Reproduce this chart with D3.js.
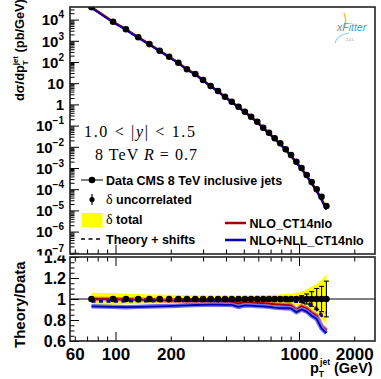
<!DOCTYPE html>
<html>
<head>
<meta charset="utf-8">
<script src="https://cdn.jsdelivr.net/npm/d3@7"></script>
<style>
  body { margin: 0; background: #fff; }
  svg { display: block; font-family: "Liberation Sans", Arial, sans-serif; font-weight: bold; }
</style>
</head>
<body>
<svg id="chart" width="381" height="379"></svg>
<script>
// jet pT (GeV)
const pt = [74, 97, 114, 133, 153, 174, 196, 220, 245, 272, 300, 330, 362, 395, 430, 468,
  507, 548, 592, 638, 686, 737, 790, 846, 905, 967, 1032, 1101, 1172, 1248, 1327, 1410];
// d sigma / d pT (pb/GeV)
const xsec = [3.8e4, 7.9e3, 3.5e3, 1.46e3, 700, 341, 178, 92.7, 45.3, 27.2, 14.2, 7.38, 4.29, 2.31, 1.34, 0.78,
  0.453, 0.263, 0.153, 0.0796, 0.0462, 0.0251, 0.0146, 7.6e-3, 4.1e-3, 1.98e-3, 1.0e-3, 4.7e-4, 2.2e-4, 1.0e-4, 4.4e-5, 1.6e-5];
// relative uncorrelated and total uncertainties
const statErr = [0.004, 0.004, 0.004, 0.004, 0.004, 0.004, 0.004, 0.004, 0.004, 0.004, 0.004, 0.004, 0.004, 0.004, 0.004, 0.005,
  0.005, 0.005, 0.006, 0.006, 0.007, 0.008, 0.009, 0.01, 0.012, 0.018, 0.032, 0.048, 0.07, 0.1, 0.12, 0.17];
const totErr = [0.06, 0.055, 0.05, 0.047, 0.044, 0.042, 0.04, 0.038, 0.036, 0.035, 0.034, 0.033, 0.033, 0.033, 0.033, 0.034,
  0.034, 0.035, 0.036, 0.037, 0.039, 0.041, 0.044, 0.048, 0.053, 0.06, 0.07, 0.09, 0.12, 0.145, 0.18, 0.24];
// theory / data
const nloRatio = [1.0, 1.0, 0.995, 0.995, 0.99, 0.99, 0.985, 0.985, 0.98, 0.98, 0.978, 0.978, 0.975, 0.975, 0.972, 0.955,
  0.97, 0.965, 0.962, 0.96, 0.955, 0.95, 0.947, 0.945, 0.94, 0.897, 0.93, 0.91, 0.87, 0.84, 0.74, 0.70];
const nllRatio = [0.93, 0.925, 0.922, 0.925, 0.928, 0.93, 0.933, 0.936, 0.94, 0.943, 0.945, 0.946, 0.946, 0.945, 0.944, 0.925,
  0.94, 0.937, 0.933, 0.93, 0.925, 0.918, 0.914, 0.912, 0.91, 0.875, 0.90, 0.88, 0.84, 0.81, 0.72, 0.675];
const nloShift = [0.995, 0.995, 0.995, 0.995, 0.995, 0.995, 0.995, 0.995, 0.995, 0.995, 0.995, 0.995, 0.995, 0.995, 0.995, 0.995,
  0.995, 0.995, 0.995, 0.995, 0.995, 0.995, 0.995, 0.993, 0.99, 0.985, 0.98, 0.97, 0.95, 0.91, 0.85, 0.87];
const nllShift = [0.977, 0.977, 0.978, 0.979, 0.98, 0.981, 0.982, 0.983, 0.984, 0.985, 0.985, 0.986, 0.986, 0.986, 0.986, 0.986,
  0.986, 0.986, 0.986, 0.986, 0.985, 0.985, 0.984, 0.982, 0.98, 0.975, 0.97, 0.96, 0.94, 0.90, 0.84, 0.86];
const xTickLabels = [60, 100, 200, 1000, 2000];
const ratioTicks = [0.6, 0.8, 1, 1.2, 1.4];
const decades = [-7, -6, -5, -4, -3, -2, -1, 0, 1, 2, 3, 4];

const left = 70, right = 375, topY = 7, topB = 254, lowT = 257, lowB = 341, split = 255.5;
const red = '#a00000', redEdge = '#e86a6a', blue = '#0000b4', blueEdge = '#7070f0';

const svg = d3.select('#chart');
const defs = svg.append('defs');
defs.append('clipPath').attr('id', 'padTop').append('rect').attr('x', 0).attr('y', 0).attr('width', 381).attr('height', split);
defs.append('clipPath').attr('id', 'padLow').append('rect').attr('x', 0).attr('y', split).attr('width', 381).attr('height', 379 - split);
defs.append('clipPath').attr('id', 'frameTop').append('rect').attr('x', left).attr('y', topY).attr('width', right - left).attr('height', topB - topY);
defs.append('clipPath').attr('id', 'frameLow').append('rect').attr('x', left).attr('y', lowT).attr('width', right - left).attr('height', lowB - lowT);

const x = d3.scaleLog().domain([56.5, 2594]).range([left, right]);
const yTop = d3.scaleLog().domain([Math.pow(10, -7.057), Math.pow(10, 4.594)]).range([topB, topY]);
const yLow = d3.scaleLinear().domain([0.6, 1.4]).range([lowB, lowT]);

const idx = d3.range(pt.length);
const xMinor = [60, 70, 80, 90, 200, 300, 400, 500, 600, 700, 800, 900, 2000];
const xMajor = [100, 1000];

// ---------- top pad ----------
const padT = svg.append('g').attr('clip-path', 'url(#padTop)');
const plotT = padT.append('g').attr('clip-path', 'url(#frameTop)');

plotT.append('path')
  .attr('d', d3.area().x(i => x(pt[i])).y0(i => yTop(xsec[i] * (1 - totErr[i]))).y1(i => yTop(xsec[i] * (1 + totErr[i])))(idx))
  .attr('fill', '#ffff00');
plotT.append('path')
  .attr('d', d3.line().x(i => x(pt[i])).y(i => yTop(xsec[i] * nloRatio[i]))(idx))
  .attr('fill', 'none').attr('stroke', red).attr('stroke-width', 2.6);
plotT.append('path')
  .attr('d', d3.line().x(i => x(pt[i])).y(i => yTop(xsec[i] * nllRatio[i]))(idx))
  .attr('fill', 'none').attr('stroke', blue).attr('stroke-width', 1.8);
plotT.selectAll('circle').data(idx).enter().append('circle')
  .attr('cx', i => x(pt[i])).attr('cy', i => yTop(xsec[i])).attr('r', 3.3).attr('fill', '#000');

// y axis of the top pad
const yMinorVals = [];
decades.concat([-8]).forEach(d => { for (let m = 2; m <= 9; m++) yMinorVals.push(m * Math.pow(10, d)); });
padT.append('g').attr('transform', `translate(${left},0)`)
  .call(d3.axisLeft(yTop).tickValues(yMinorVals.filter(v => v > yTop.domain()[0] && v < yTop.domain()[1])).tickSize(-4.5).tickFormat(''))
  .call(g => g.select('.domain').remove());
const yMajorAxis = padT.append('g').attr('transform', `translate(${left},0)`)
  .call(d3.axisLeft(yTop).tickValues(decades.map(d => Math.pow(10, d))).tickSize(-9).tickPadding(6).tickFormat(''))
  .call(g => g.select('.domain').remove());
yMajorAxis.selectAll('.tick text').each(function (d) {
  const e = Math.round(Math.log10(d));
  const t = d3.select(this).attr('font-size', 15).attr('font-family', null).attr('dy', '0.36em');
  if (e === 0) t.text('1');
  else if (e === 1) t.text('10');
  else {
    t.append('tspan').text('10');
    t.append('tspan').attr('font-size', 10).attr('dy', -7).text(e < 0 ? '\u2212' + (-e) : e);
  }
});
// x ticks along the bottom of the top pad
padT.append('g').attr('transform', `translate(0,${topB})`)
  .call(d3.axisBottom(x).tickValues(xMinor).tickSize(-4.5).tickFormat(''))
  .call(g => g.select('.domain').remove());
padT.append('g').attr('transform', `translate(0,${topB})`)
  .call(d3.axisBottom(x).tickValues(xMajor).tickSize(-9).tickFormat(''))
  .call(g => g.select('.domain').remove());
padT.selectAll('.tick line').attr('stroke', '#000');
padT.append('rect').attr('x', left).attr('y', topY).attr('width', right - left).attr('height', topB - topY)
  .attr('fill', 'none').attr('stroke', '#222').attr('stroke-width', 1.6);

// y title
const yt = padT.append('text').attr('transform', 'translate(24,101) rotate(-90)').attr('font-size', 12.8);
yt.append('tspan').text('d\u03c3/dp');
yt.append('tspan').attr('font-size', 8).attr('dy', 3.5).text('T');
yt.append('tspan').attr('font-size', 8).attr('dx', -5).attr('dy', -10).text('jet');
yt.append('tspan').attr('dy', 6.5).text(' (pb/GeV)');

// annotations
const serif = '"Liberation Serif", "Times New Roman", serif';
const a1 = padT.append('text').attr('x', 84).attr('y', 137)
  .attr('textLength', 111).attr('lengthAdjust', 'spacing')
  .attr('font-family', serif).attr('font-weight', 'normal').attr('font-size', 16);
a1.append('tspan').text('1.0 < |');
a1.append('tspan').attr('font-style', 'italic').text('y');
a1.append('tspan').text('| < 1.5');
const a2 = padT.append('text').attr('x', 95).attr('y', 160)
  .attr('textLength', 102).attr('lengthAdjust', 'spacing')
  .attr('font-family', serif).attr('font-weight', 'normal').attr('font-size', 16);
a2.append('tspan').text('8 TeV ');
a2.append('tspan').attr('font-style', 'italic').text('R');
a2.append('tspan').text(' = 0.7');

// legend
const lg = padT.append('g').attr('font-size', 12.5);
lg.append('line').attr('x1', 81).attr('x2', 103).attr('y1', 180).attr('y2', 180).attr('stroke', '#000').attr('stroke-width', 1.2);
lg.append('circle').attr('cx', 92).attr('cy', 180).attr('r', 3.3);
lg.append('text').attr('x', 106).attr('y', 184.5).text('Data CMS 8 TeV inclusive jets');
lg.append('line').attr('x1', 92).attr('x2', 92).attr('y1', 194).attr('y2', 205).attr('stroke', '#000').attr('stroke-width', 1.2);
lg.append('circle').attr('cx', 92).attr('cy', 199.5).attr('r', 2.6);
const l2 = lg.append('text').attr('x', 106).attr('y', 204);
l2.append('tspan').attr('font-family', serif).attr('font-weight', 'normal').attr('font-size', 14).text('\u03b4');
l2.append('tspan').text(' uncorrelated');
lg.append('rect').attr('x', 81.5).attr('y', 213).attr('width', 21).attr('height', 14).attr('fill', '#ffff00');
const l3 = lg.append('text').attr('x', 106).attr('y', 224);
l3.append('tspan').attr('font-family', serif).attr('font-weight', 'normal').attr('font-size', 14).text('\u03b4');
l3.append('tspan').text(' total');
lg.append('line').attr('x1', 81).attr('x2', 103).attr('y1', 239).attr('y2', 239).attr('stroke', '#000')
  .attr('stroke-width', 1.6).attr('stroke-dasharray', '4,3.5');
lg.append('text').attr('x', 106).attr('y', 243.5).text('Theory + shifts');
lg.append('line').attr('x1', 225).attr('x2', 246).attr('y1', 223).attr('y2', 223).attr('stroke', red).attr('stroke-width', 2.4);
lg.append('text').attr('x', 249.5).attr('y', 227.5).text('NLO_CT14nlo');
lg.append('line').attr('x1', 225).attr('x2', 246).attr('y1', 240).attr('y2', 240).attr('stroke', blue).attr('stroke-width', 2.4);
lg.append('text').attr('x', 249.5).attr('y', 244.5).text('NLO+NLL_CT14nlo');

// xFitter logo
const logo = padT.append('g');
logo.append('path').attr('d', 'M344,13 Q347,20 344.5,28').attr('fill', 'none').attr('stroke', '#f2c230').attr('stroke-width', 1.6);
logo.append('path').attr('d', 'M335,43 Q337,35 349,33').attr('fill', 'none').attr('stroke', '#8ccaf0').attr('stroke-width', 1.2);
logo.append('text').attr('x', 337).attr('y', 31).attr('font-style', 'italic').attr('font-weight', 'normal')
  .attr('font-size', 10.5).attr('fill', '#3d9ee0').text('xFitter');
logo.append('text').attr('x', 346).attr('y', 41).attr('font-weight', 'normal').attr('font-size', 3.5).attr('fill', '#888').text('2.0.1');

// ---------- lower pad ----------
const padL = svg.append('g').attr('clip-path', 'url(#padLow)');
const plotL = padL.append('g').attr('clip-path', 'url(#frameLow)');

plotL.append('path')
  .attr('d', d3.area().x(i => x(pt[i])).y0(i => yLow(1 - totErr[i])).y1(i => yLow(1 + totErr[i]))(idx))
  .attr('fill', '#ffff00');
plotL.append('line').attr('x1', left).attr('x2', right).attr('y1', yLow(1)).attr('y2', yLow(1))
  .attr('stroke', '#000').attr('stroke-width', 1);

function ratioLine(vals, colEdge, col, dashed) {
  const gen = d3.line().x(i => x(pt[i])).y(i => yLow(vals[i]));
  if (!dashed) {
    plotL.append('path').attr('d', gen(idx)).attr('fill', 'none').attr('stroke', colEdge).attr('stroke-width', 4.5);
    plotL.append('path').attr('d', gen(idx)).attr('fill', 'none').attr('stroke', col).attr('stroke-width', 1.8);
  } else {
    plotL.append('path').attr('d', gen(idx)).attr('fill', 'none').attr('stroke', col).attr('stroke-width', 2.6)
      .attr('stroke-dasharray', '4,3.5');
  }
}
ratioLine(nloRatio, redEdge, red, false);
ratioLine(nllRatio, blueEdge, blue, false);
ratioLine(nloShift, redEdge, red, true);
ratioLine(nllShift, blueEdge, blue, true);

const eb = plotL.append('g').attr('stroke', '#000').attr('stroke-width', 1.1);
idx.forEach(i => {
  const cx = x(pt[i]), y0 = yLow(1 - statErr[i]), y1 = yLow(1 + statErr[i]);
  eb.append('line').attr('x1', cx).attr('x2', cx).attr('y1', y0).attr('y2', y1);
  if (statErr[i] > 0.02) {
    eb.append('line').attr('x1', cx - 2.5).attr('x2', cx + 2.5).attr('y1', y0).attr('y2', y0);
    eb.append('line').attr('x1', cx - 2.5).attr('x2', cx + 2.5).attr('y1', y1).attr('y2', y1);
  }
});
plotL.selectAll('circle').data(idx).enter().append('circle')
  .attr('cx', i => x(pt[i])).attr('cy', yLow(1)).attr('r', 3.3).attr('fill', '#000');

// axes of the lower pad
padL.append('g').attr('transform', `translate(${left},0)`)
  .call(d3.axisLeft(yLow).tickValues(d3.range(0.6, 1.401, 0.05)).tickSize(-4.5).tickFormat(''))
  .call(g => g.select('.domain').remove());
padL.append('g').attr('transform', `translate(${left},0)`)
  .call(d3.axisLeft(yLow).tickValues(ratioTicks).tickSize(-9).tickPadding(4).tickFormat(d => d3.format('~g')(d)))
  .call(g => g.select('.domain').remove())
  .call(g => g.selectAll('text').attr('font-size', 16).attr('font-family', null).attr('dy', '0.36em'));
[[lowT, d3.axisTop], [lowB, d3.axisBottom]].forEach(([yy, ax]) => {
  padL.append('g').attr('transform', `translate(0,${yy})`)
    .call(ax(x).tickValues(xMinor).tickSize(-4.5).tickFormat(''))
    .call(g => g.select('.domain').remove());
  padL.append('g').attr('transform', `translate(0,${yy})`)
    .call(ax(x).tickValues(xMajor).tickSize(-9).tickFormat(''))
    .call(g => g.select('.domain').remove());
});
padL.append('g').attr('transform', `translate(0,${lowB})`)
  .call(d3.axisBottom(x).tickValues(xTickLabels).tickSize(0).tickPadding(7).tickFormat(d => d))
  .call(g => g.select('.domain').remove())
  .call(g => g.selectAll('text').attr('font-size', 17).attr('font-family', null));
padL.selectAll('.tick line').attr('stroke', '#000');
padL.append('rect').attr('x', left).attr('y', lowT).attr('width', right - left).attr('height', lowB - lowT)
  .attr('fill', 'none').attr('stroke', '#222').attr('stroke-width', 1.6);

padL.append('text').attr('transform', 'translate(25,348) rotate(-90)').attr('font-size', 15).text('Theory/Data');

const xt = padL.append('text').attr('x', 310).attr('y', 373).attr('font-size', 14.5);
xt.append('tspan').text('p');
xt.append('tspan').attr('font-size', 8.5).attr('dy', 3.5).text('T');
xt.append('tspan').attr('font-size', 8.5).attr('dx', -4).attr('dy', -11.5).text('jet');
xt.append('tspan').attr('dy', 8).text(' (GeV)');
</script>
</body>
</html>
